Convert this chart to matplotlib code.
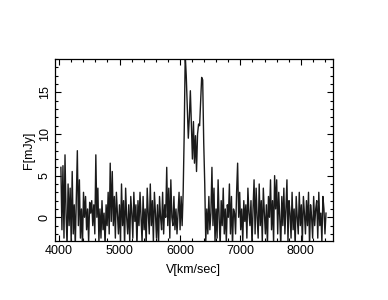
import numpy as np
import matplotlib.pyplot as plt
from matplotlib.ticker import MultipleLocator

# channel grid of the spectrum
v_start = 4030.0
dv = 17.0

# flux per channel (mJy)
flux_blue = [6.0, -1.5, 6.2, -2.5, 7.5, 0.5, -3.5, 4.0, -1.0, 3.5,
             -3.0, 5.5, -2.0, 1.5, -3.5, 2.0, 8.0, -1.0, 4.5, -2.5,
             1.0, -3.5, 3.0, 0.0, 2.5, -1.5, 1.0, -3.0, 1.8, 0.5,
             2.0, -1.0, 1.5, -2.0, 7.5, 0.0, 3.5, -3.0, 1.0, -2.5,
             2.0, -1.5, 0.5, -3.5, 1.5, -1.0, 3.0, -2.0, 6.5, -0.5,
             5.5, -1.0, 2.5, -2.5, 3.0, 0.5, -2.0, 1.5, -3.0, 4.0,
             -1.0, 2.0, -3.5, 3.5, 0.0, -2.0, 1.5, -3.0, 2.5, 0.5,
             -2.5, 3.0, -0.5, 1.5, -3.5, 2.0, -1.0, 3.0, 0.0, -3.0,
             2.5, -1.5, 1.0, -3.5, 3.5, 0.5, -2.0, 4.0, -1.0, 2.0,
             -3.0, 3.0, 0.5, -2.5, 1.5, -3.5, 2.5, 0.0, -1.5, 3.0,
             -2.0, 1.5, 0.0, 6.0, -1.0, 3.5, -2.5, 4.5, 0.0, -1.0,
             2.5, -1.5, 1.0, -2.0, 0.5, 3.0, -1.5, 2.5, -1.0]
flux_line = [3.0, 10.0, 19.5, 17.0, 13.2, 9.5, 12.0, 15.2, 11.0, 7.0,
             11.5, 6.5, 9.8, 5.5, 10.0, 11.2, 11.0, 14.0, 16.8, 16.5,
             9.0, 4.0, -3.0]
flux_red = [1.0, -2.0, 2.5, -1.5, 0.5, 6.0, -1.0, 3.5, -3.0, 1.0,
            -2.5, 4.5, 0.0, -3.5, 2.0, -1.0, 3.5, -2.0, 1.0, -3.0,
            1.5, 0.0, 4.0, -2.0, 2.5, -3.5, 1.0, 0.5, -2.0, 3.0,
            6.5, 0.0, 3.0, -1.5, 1.0, -3.0, 2.0, -0.5, 1.5, -2.5,
            3.5, 0.5, -1.0, 2.0, -3.5, 1.0, 4.5, -2.0, 3.5, 0.0,
            -2.5, 4.0, -1.0, 2.0, -3.0, 3.5, 0.5, -2.0, 1.5, -3.5,
            2.5, 0.0, 4.5, -1.5, 2.0, -3.0, 5.0, 1.0, 4.5, -2.0,
            3.0, 0.0, -3.5, 2.5, -1.0, 3.5, -2.0, 1.0, 4.5, -3.0,
            2.0, 0.5, -2.5, 3.0, -1.5, 1.0, -3.5, 2.5, 0.0, -2.0,
            3.0, -1.0, 1.5, -3.0, 2.5, 0.5, -2.0, 2.0, -1.0, 3.0,
            -3.5, 1.5, 0.0, -2.5, 2.5, -1.0, 1.0, 2.0, -2.5, 3.0,
            -1.0, 0.5, -3.0, 2.5, 1.0, -2.0, 0.5]

flux = np.array(flux_blue + flux_line + flux_red)
vel = v_start + dv * np.arange(len(flux))

plt.rcParams['font.family'] = ['Liberation Sans', 'DejaVu Sans']

fig = plt.figure(figsize=(3.88, 3.0), dpi=100)
ax = fig.add_axes([0.142, 0.198, 0.715, 0.605])
ax.plot(vel, flux, color='#1a1a1a', lw=1.0)

ax.set_xlim(3934, 8524)
ax.set_ylim(-2.8, 19.0)
ax.xaxis.set_major_locator(MultipleLocator(1000))
ax.xaxis.set_minor_locator(MultipleLocator(200))
ax.yaxis.set_major_locator(MultipleLocator(5))
ax.yaxis.set_minor_locator(MultipleLocator(1))
ax.tick_params(which='both', direction='in', top=True, right=True, labelsize=9, width=0.8)
ax.tick_params(which='major', length=4.5)
ax.tick_params(which='minor', length=2.2)
ax.tick_params(axis='y', pad=3)
for lab in ax.get_yticklabels():
    lab.set_rotation(90)
    lab.set_va('center')
for s in ax.spines.values():
    s.set_linewidth(0.9)

ax.set_xlabel('V[km/sec]', fontsize=9, labelpad=5)
ax.set_ylabel('F[mJy]', fontsize=9, labelpad=3)

fig.savefig('out.png', dpi=100)
